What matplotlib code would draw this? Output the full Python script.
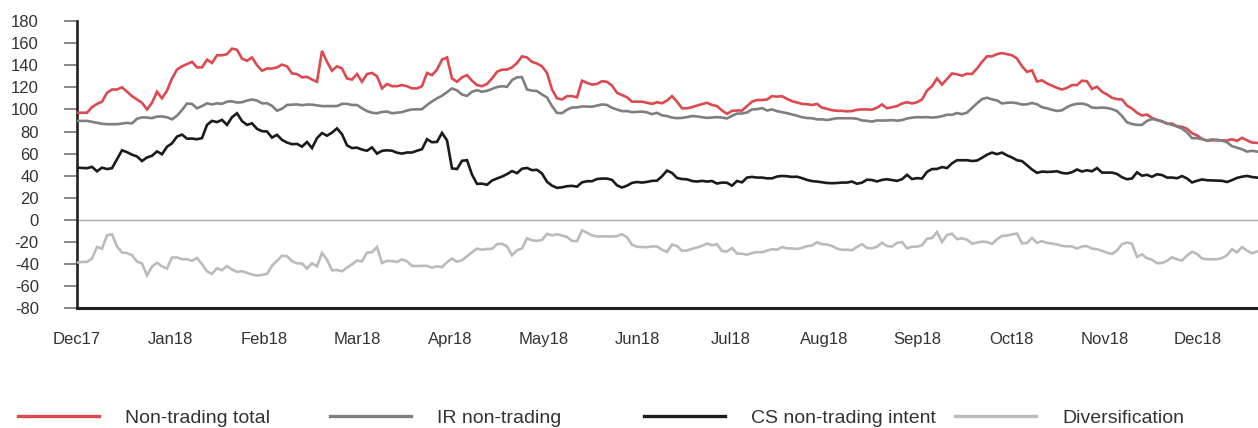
import numpy as np
import matplotlib
matplotlib.use("Agg")
import matplotlib.pyplot as plt
from matplotlib.lines import Line2D

plt.rcParams['font.family'] = ['Liberation Sans', 'DejaVu Sans']

months = ["Dec17", "Jan18", "Feb18", "Mar18", "Apr18", "May18", "Jun18",
          "Jul18", "Aug18", "Sep18", "Oct18", "Nov18", "Dec18"]
days_per_month = 18.68  # observations per month label step

non_trading_total = [
    97, 97, 97, 102, 105, 107, 115, 118, 118, 120, 116, 112, 109, 106, 100, 106, 116, 110, 117, 128,
    136, 139, 141, 143, 138, 138, 145, 142, 149, 149, 150, 155, 154, 146, 144,
    147, 140, 135, 137, 137, 138, 140.5, 139, 132.5, 132, 129, 129.5, 127, 125, 153, 143, 135, 139, 137,
    128, 127, 132, 125, 132, 133, 130, 119, 123, 121, 121, 122, 121, 119, 119,
    121, 133, 131, 136, 145, 147, 128, 125, 129, 131, 126, 122, 121, 123, 128, 134, 136, 136, 138,
    142, 148, 147, 143, 141.5, 139, 133, 118, 110, 109, 112, 112, 111, 126, 124,
    122.5, 123, 125.5, 125, 121.5, 115, 113, 111, 107, 107, 107, 106, 105, 106.5, 105.5, 108, 112, 107,
    101, 101, 102, 103.5, 104.7, 106, 104, 103, 99, 96, 98.7, 99, 99, 103, 107, 108.5,
    108.5, 109, 112, 111.5, 112, 109.5, 107.5, 106.3, 105, 104.7, 104, 105, 101.5, 100.5, 99.3, 98.7,
    98.7, 98.2, 98.5, 99.6, 100, 100, 99.8, 101.5, 104.5, 101, 102, 103, 105.3, 106.5, 105.4, 106.5,
    109, 117,
    121, 128, 122.5, 127.5, 132.5, 131.8, 130.5, 132.3, 132, 137, 143, 148, 148, 150, 151, 150, 149,
    146, 139, 134, 135.3, 125.3, 126.3, 123.5, 121.5, 119.5, 118, 119.5, 122, 122, 126, 125.4, 118.5,
    120.5,
    116, 113.5, 110.5, 109.3, 109, 103.5, 100.7, 97, 94.5, 95.3, 92.3, 90.6, 89.3, 87, 87.2, 84.8,
    84.2, 82.5, 78.5, 76.5, 73.4, 71.7, 72, 72, 72, 71.8, 73, 71.5, 74.3, 72, 70, 69.7,
]

ir_non_trading = [
    89.6, 89.6, 89.6, 88.7, 87.7, 87, 86.6, 86.6, 86.6, 87.2, 87.8, 87.3, 91.5, 92.8, 92.6, 92.1,
    93.5, 93.6, 92.9, 91, 94.3, 99.4, 105.3, 105, 101, 103, 105.5, 104.5, 105.5, 105, 107, 107.3,
    106.2, 106.5, 108,
    109, 108, 105.5, 105.6, 103.2, 98.8, 100.6, 104, 104.2, 104.5, 103.8, 104.4, 104.3, 103.7, 103,
    103, 103, 103, 105, 105, 104, 104, 101, 98.5, 97, 96.5, 97.7, 98, 96.5, 97, 97.5, 99, 100, 100,
    100.2, 104, 107.2, 110, 112.4, 115.6, 119, 117.2, 113.5, 112.2, 116, 117.4, 116, 116.8, 118.5,
    120.2, 121, 120.4, 126.5, 129, 129.2, 118, 117, 116.6, 113.5, 110.8, 103, 96.8, 96.6, 99.7,
    101.7, 101.8, 102.7, 102.5,
    102.4, 103.4, 104.5, 104, 101.4, 99.9, 98.4, 98.5, 97.5, 97.8, 98, 97.3, 95.7, 96.9, 94.6, 94,
    92.6, 92.1, 92.3, 93, 94, 93.6, 93, 92.3, 92.6, 93, 92.6, 91.8, 94.2, 96.2, 96.3, 97.2, 100, 100.2,
    101.2, 99, 100, 98.4, 97.5, 96.6, 95.5, 94.3, 92.9, 92.2, 92, 91, 91, 90.4, 91.2, 92, 92, 92, 92,
    91.5, 90, 89.6, 89, 90, 89.9, 90, 90.3, 89.8, 90.3, 91.8, 92.5, 93, 92.8, 93,
    92.6, 93, 93.8, 95.2, 95.1, 96.7, 95.7, 97.1, 101.3, 105.5, 109.3, 110.6, 109.1, 108.1, 105.4,
    106, 106.2, 105.6, 104.4, 104.6, 105.8, 104.6, 102, 101, 99.6, 98.6, 99.2, 102, 104.1, 105,
    105.3, 104.2, 101.7, 101.3,
    101.7, 101.3, 100.3, 98.5, 94, 88.3, 86.8, 86, 86, 89.6, 91.3, 90.4, 89, 87.4, 86, 84.5, 82.6,
    79.2, 74, 74, 73, 72, 72.8, 72.5, 71.8, 70.2, 66.7, 65.4, 63.9, 61.8, 62.5, 61.9,
]

cs_non_trading_intent = [
    47.4, 47, 46.8, 48, 44, 47.3, 46, 46.8, 55, 63, 61.3, 59, 57.4, 53.3, 56.5, 58, 62, 59.4, 66.2,
    69.3, 75.4, 77.2, 73.5, 73.6, 73, 74, 86, 89.6, 88.5, 90.5, 86, 92.9, 96.5, 89.4, 86,
    87.4, 82.4, 80.3, 80, 74.5, 77, 72.4, 70, 68.5, 68.8, 66.3, 70.5, 65, 74, 78.6, 76.2, 79, 82.8,
    77.5, 67.5, 65, 65.4, 63.6, 62.6, 65.6, 60, 62.5, 63, 62.6, 60.8, 60, 61, 61, 62.6,
    64, 73, 70.3, 70.6, 78.7, 72, 46.6, 46, 53.5, 54, 41, 32.6, 32.8, 31.8, 35.6, 37.5, 39.2, 41.4,
    44.2, 42.3, 46.3, 47, 45, 45.3, 42, 34.5, 31, 29, 29.5, 30.5, 30.8, 30.1, 34, 35,
    35, 37, 37.4, 37.4, 36.2, 31.3, 29.3, 31, 33.5, 34.3, 33.8, 34.4, 35.3, 35.5, 39.5, 44.6, 42.5,
    38, 37, 36.7, 35.2, 34.7, 35.3, 34.7, 35.2, 32.9, 33.8, 33.6, 31, 35.2, 34, 38.3, 38.9, 38.3,
    38.3, 37.6, 37.6, 39.2, 39.8, 39.5, 38.9, 39.1, 37.8, 36.2, 35.1, 34.7, 34, 33.4, 33.2, 33.4,
    33.8, 33.8, 34.7, 32.7, 33.7, 36.4, 36.1, 34.8, 36.2, 36.8, 36.1, 35.3, 36.8, 40.8, 37, 37.8,
    37.4, 43.5,
    46, 46.1, 47.8, 46.9, 51.2, 54, 54, 54, 53.3, 53.7, 56.2, 59, 60.9, 59.5, 60.9, 58.4, 56.5, 54,
    53.2, 49.5, 45.6, 42.6, 43.7, 43.4, 43.6, 44, 42.5, 42, 43.2, 45.6, 43.8, 44.9, 44, 46.9,
    42.8, 42.8, 42.8, 41.6, 38.6, 36.8, 37.5, 43, 40, 40.8, 39, 41.3, 40.6, 38.3, 38.3, 37.7, 39.7,
    37.5, 33.9, 35.4, 36.6, 35.9, 35.7, 35.5, 35.4, 34.3, 36, 38, 39.1, 39.8, 38.8, 38.3,
]

diversification = [
    -38.6, -38, -38, -35, -24.5, -26, -14, -13, -24, -29.5, -30, -32, -37.7, -39.5, -50.2, -42.3,
    -38.8, -42, -44, -34, -34, -35.6, -35.6, -37, -34.5, -40, -46.5, -48.8, -43.8, -45.5, -41.8,
    -44.9, -47, -46.4, -48,
    -49.5, -50.3, -49.8, -48.8, -41.5, -37, -32.5, -32.8, -37.3, -39.3, -39.5, -44, -39.3, -42, -30,
    -36, -45.6, -45.3, -46.5, -43.2, -40.2, -36.8, -37.5, -29.6, -29.3, -24.5, -39, -37, -37.3, -38,
    -35.7, -37.5, -41.6, -41.8,
    -41.6, -41.6, -43.2, -42, -42.8, -38.3, -34.9, -37.9, -36.5, -33, -29.3, -26, -27, -26.3, -26.2,
    -22, -21.6, -24, -32, -27.4, -25.8, -16.7, -18.4, -19, -18.2, -12.6, -14, -13, -14.2, -15.4, -19,
    -19.2, -9.5, -11.6,
    -14, -15, -14.9, -15, -15, -14.7, -13, -15.7, -22.5, -24.3, -24.5, -24.7, -24, -24, -27, -29,
    -22.3, -23.6, -28, -27.6, -26.2, -25, -23.5, -21.3, -23, -22, -28.2, -28.6, -25.4, -30.5, -30.6,
    -31.5, -30, -29.1,
    -29.3, -27.8, -26.5, -27, -24.6, -25.7, -25.8, -26.3, -25.4, -23.7, -23.2, -20.2, -22, -22.2,
    -23.6, -26, -27.1, -27, -27.5, -24.4, -22, -25.3, -25.8, -24.2, -20.7, -23.6, -24.1, -20.8, -20.1,
    -25.7, -24.3, -24.2, -23, -17,
    -16.5, -11, -20, -13.7, -12.5, -17.4, -16.7, -17.8, -21.6, -20.5, -19.7, -20, -21.8, -17.5, -14.5,
    -14.2, -13.1, -12.4, -21.2, -20.9, -16.4, -20.8, -19.2, -20.8, -21.4, -22.2, -23.5, -23.9, -24,
    -26, -24, -23.8, -26, -26.5,
    -28, -29.7, -30.8, -27.7, -21.9, -20.5, -21.6, -33.5, -31.2, -34.7, -36, -39.2, -39, -37, -33.8,
    -35.7, -36.7, -32.3, -28.8, -30.8, -34.9, -35.6, -35.6, -35.6, -34.6, -32, -26.5, -29.4, -24.6,
    -27.8, -30.2, -28.7,
]

series_labels = ["Non-trading total", "IR non-trading", "CS non-trading intent", "Diversification"]
series_values = [non_trading_total, ir_non_trading, cs_non_trading_intent, diversification]
colors = ["#dc4a50", "#7f7f80", "#1c1a1b", "#bbbbbd"]
yticks = list(range(-80, 181, 20))

W, H = 1258, 428
fig = plt.figure(figsize=(W / 100, H / 100), dpi=100)
ax = fig.add_axes([77 / W, 1 - 308.3 / H, 1 - 77 / W, (308.3 - 21) / H])

n = len(non_trading_total)
x = np.arange(n)
order = [3, 1, 0, 2]
for i in order:
    vals = series_values[i]
    ax.plot(np.arange(len(vals)), vals, color=colors[i], lw=1.9, solid_joinstyle='miter', zorder=3 + i)

ax.axhline(0, color="#aaaaaa", lw=1.0, zorder=1)
ax.set_xlim(0, n - 0.8)
ax.set_ylim(-80, 180)
ax.set_yticks(yticks)
ax.set_yticklabels([str(v) for v in yticks])
ax.set_xticks(np.arange(len(months)) * days_per_month)
ax.set_xticklabels(months)

for s in ["top", "right"]:
    ax.spines[s].set_visible(False)
ax.spines["left"].set_color("#231f20")
ax.spines["left"].set_linewidth(1.9)
ax.spines["bottom"].set_color("#231f20")
ax.spines["bottom"].set_linewidth(2.2)

ax.tick_params(axis="y", length=9.5, width=1.4, color="#888888", pad=18,
               labelsize=12, labelcolor="#333333")
ax.tick_params(axis="x", length=0, pad=17, labelsize=12, labelcolor="#333333")

# legend: one entry per fixed slot
handle_starts = [18, 330, 644, 955]
for i, xs in enumerate(handle_starts):
    h = Line2D([], [], color=colors[i], lw=2.4)
    fig.legend(handles=[h], labels=[series_labels[i]], loc="center left",
               bbox_to_anchor=(xs / W, 1 - 418 / H), frameon=False,
               borderpad=0, borderaxespad=0, handlelength=4.15,
               handletextpad=1.35, fontsize=14, labelcolor="#333333")

fig.savefig("out.png", dpi=100)
